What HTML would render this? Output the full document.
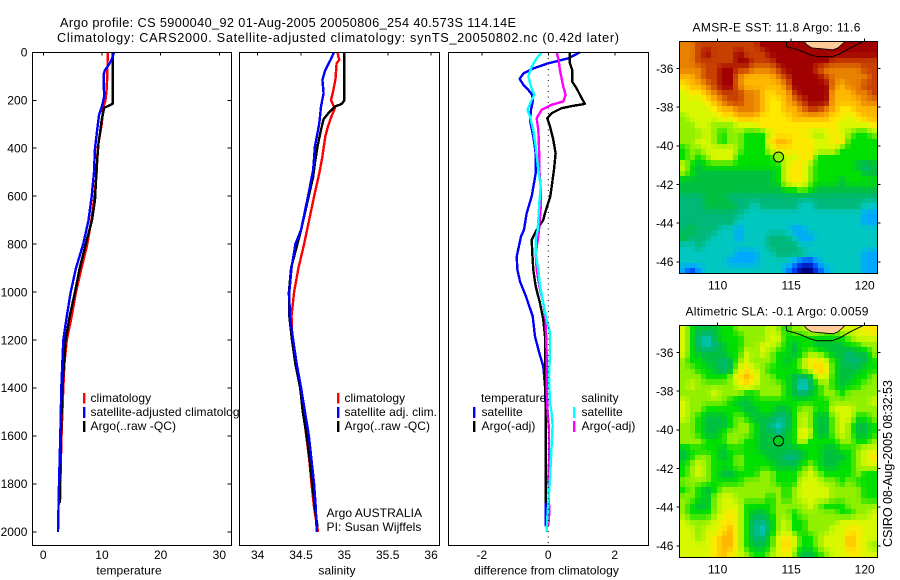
<!DOCTYPE html>
<html lang="en">
<head>
<meta charset="utf-8">
<title>Argo profile CS 5900040_92</title>
<style>
html,body{margin:0;padding:0;background:#fff;width:900px;height:580px;overflow:hidden}
svg{display:block}
text{font-family:"Liberation Sans",sans-serif;font-size:12px;fill:#000;letter-spacing:.06px}
text.big{font-size:12.7px;letter-spacing:0}
</style>
</head>
<body>
<svg id="chart" xmlns="http://www.w3.org/2000/svg" width="900" height="580" viewBox="0 0 900 580">
<defs><clipPath id="leg-clip"><rect x="0" y="0" width="239" height="580"/></clipPath></defs>
<rect width="900" height="580" fill="#fff"/>
<text class="big" x="60" y="27" textLength="456" lengthAdjust="spacing">Argo profile: CS 5900040_92 01-Aug-2005 20050806_254 40.573S 114.14E</text>
<text class="big" x="57" y="42" textLength="562" lengthAdjust="spacing">Climatology: CARS2000. Satellite-adjusted climatology: synTS_20050802.nc (0.42d later)</text>
<g id="plots"></g>

<g clip-path="url(#leg-clip)">
<rect x="83" y="393" width="2.4" height="10.5" fill="#f00"/>
<rect x="83" y="407" width="2.4" height="11" fill="#00f"/>
<rect x="83" y="421" width="2.4" height="11" fill="#000"/>
<text x="90.5" y="402">climatology</text>
<text x="90.5" y="416">satellite-adjusted climatology</text>
<text x="90.5" y="430">Argo(..raw -QC)</text>
</g>
<g>
<rect x="337" y="393" width="2.4" height="10.5" fill="#f00"/>
<rect x="337" y="407" width="2.4" height="11" fill="#00f"/>
<rect x="337" y="421" width="2.4" height="11" fill="#000"/>
<text x="344.5" y="402">climatology</text>
<text x="344.5" y="416">satellite adj. clim.</text>
<text x="344.5" y="430">Argo(..raw -QC)</text>
<text x="326.5" y="517">Argo AUSTRALIA</text>
<text x="326.5" y="531">PI: Susan Wijffels</text>
</g>
<g>
<text x="481" y="402">temperature</text>
<rect x="473" y="407" width="2.4" height="11" fill="#00f"/>
<rect x="473" y="421" width="2.4" height="11" fill="#000"/>
<text x="481.5" y="416">satellite</text>
<text x="481.5" y="430">Argo(-adj)</text>
<text x="581.5" y="402">salinity</text>
<rect x="573" y="407" width="2.4" height="11" fill="#0ff"/>
<rect x="573" y="421" width="2.4" height="11" fill="#f0f"/>
<text x="581.5" y="416">satellite</text>
<text x="581.5" y="430">Argo(-adj)</text>
</g>
<text class="big" transform="translate(892,547) rotate(-90)" x="0" y="0" textLength="167" lengthAdjust="spacing">CSIRO 08-Aug-2005 08:32:53</text>
</svg>
<script>
// ---- shared tick labels ----
const depthTicks = [0,200,400,600,800,1000,1200,1400,1600,1800,2000];
const tempTicks = [0,10,20,30];
const salTicks = [34,34.5,35,35.5,36];
const diffTicks = [-2,0,2];
const lonTicks = [110,115,120];
const latTicks = [-36,-38,-40,-42,-44,-46];

// ---- temperature profiles ----
const tempClimDepth = [0,100,150,200,230,300,400,500,600,700,800,900,1000,1100,1200,1300,1400,1600,1800,1880];
const tempClim = [10.97,10.9,10.8,10.6,10.2,9.95,9.26,9.1,8.7,8.2,7.5,6.5,5.57,4.84,4,3.6,3.4,3.1,2.9,2.85];
const tempArgoDepth = [0,215,232,282,337,380,477,616,700,795,900,1000,1100,1200,1400,1600,1800,1880];
const tempArgo = [11.8,11.8,10.35,9.95,9.66,9.4,9.1,8.8,8.3,7.27,6.2,5.4,4.5,3.8,3.24,3,2.85,2.8];
const tempSatDepth = [0,30,55,75,90,150,180,220,260,320,400,500,600,700,800,900,1000,1100,1200,1300,1400,1600,1800,2000];
const tempSat = [12.05,11.65,11.07,10.5,10.3,10.3,10.4,10.05,9.5,9.2,8.8,8.64,8.25,7.7,6.8,5.57,4.67,4,3.4,3.24,3.07,2.9,2.67,2.5];

// ---- salinity profiles ----
const salClimDepth = [0,32,46,115,171,199,219,233,268,310,351,435,504,601,740,800,900,1000,1100,1200,1300,1400,1500,1600,1700,1800,1900,2000];
const salClim = [34.92,34.94,34.91,34.896,34.865,34.846,34.87,34.89,34.85,34.81,34.78,34.746,34.71,34.65,34.57,34.535,34.47,34.42,34.39,34.4,34.435,34.49,34.527,34.56,34.595,34.62,34.65,34.695];
const salArgoDepth = [0,200,215,226,254,279,323,393,462,518,740,900,1000,1100,1200,1300,1400,1500,1600,1700,1800,1900,1980];
const salArgo = [35,35,34.97,34.89,34.815,34.76,34.73,34.69,34.66,34.64,34.5,34.385,34.36,34.365,34.396,34.435,34.49,34.52,34.565,34.6,34.63,34.66,34.69];
const salSatDepth = [0,32,74,115,171,226,296,393,490,601,740,800,900,1000,1100,1200,1300,1400,1500,1600,1700,1800,1900,2000];
const salSat = [34.88,34.84,34.78,34.746,34.76,34.73,34.71,34.66,34.64,34.58,34.5,34.435,34.39,34.365,34.37,34.41,34.45,34.5,34.546,34.59,34.62,34.65,34.67,34.68];

// ---- differences from climatology ----
const diffTempSatDepth = [0,25,46,67,88,111,136,157,178,205,240,282,351,421,504,601,670,740,768,852,907,956,1018,1101,1185,1254,1310,1393,1532,1978];
const diffTempSat = [0.95,0.6,0,-0.45,-0.75,-0.86,-0.75,-0.6,-0.48,-0.47,-0.52,-0.55,-0.45,-0.38,-0.38,-0.5,-0.65,-0.73,-0.82,-0.95,-0.93,-0.85,-0.67,-0.47,-0.4,-0.27,-0.15,-0.1,-0.07,-0.08];
const diffTempArgoDepth = [0,46,74,122,150,185,215,223,233,254,275,310,365,421,490,601,670,699,741,782,838,907,976,1046,1115,1185,1324,1463,1880];
const diffTempArgo = [0.65,0.65,0.72,0.72,0.85,0.98,1.1,0.75,0.4,0.1,-0.03,0.05,0.15,0.22,0.17,0.06,-0.1,-0.15,-0.35,-0.5,-0.48,-0.45,-0.38,-0.25,-0.15,-0.1,-0.1,-0.08,-0.08];
const diffSalSatDepth = [0,25,60,101,143,178,205,240,268,324,393,490,560,629,740,782,838,907,976,1046,1115,1171,1254,1352,1463,1503,1558,1641,1780,1919,2000];
const diffSalSat = [-0.2,-0.35,-0.5,-0.6,-0.52,-0.42,-0.52,-0.63,-0.55,-0.45,-0.38,-0.3,-0.23,-0.27,-0.32,-0.38,-0.38,-0.3,-0.25,-0.15,-0.05,0.05,0.05,0.02,0.05,0.1,0.13,0.1,0.05,-0.02,-0.05];
const diffSalArgoDepth = [0,25,74,143,178,205,219,240,275,324,393,490,560,629,740,768,838,907,976,1046,1115,1254,1393,1503,1572,1710,1780,1919,1975];
const diffSalArgo = [0.25,0.3,0.35,0.45,0.52,0.45,0.1,-0.2,-0.35,-0.3,-0.28,-0.27,-0.23,-0.22,-0.28,-0.3,-0.38,-0.35,-0.27,-0.15,-0.08,-0.05,-0.05,-0.02,0.02,0.02,0,0.03,0];

// ---- map data: levels on the colour scale, north to south, west to east ----
const sstGrid = [
[11,11,12,12,12,12,12,12,12,12,13,13,13,13,13,13,13,13,13,13,13,13,13,13,13],
[11,11,12,13,12,12,12,13,12,12,12,13,13,13,13,13,13,13,13,13,13,13,13,13,13],
[11,11,12,12,12,12,12,13,13,12,12,12,13,13,13,13,13,13,13,12,12,12,12,12,12],
[11,11,11,12,12,13,13,12,12,11,11,11,12,13,13,13,13,12,11,11,11,11,11,12,12],
[10,10,11,12,12,13,13,11,10,10,10,10,11,12,13,13,13,13,12,11,11,11,11,11,12],
[9,10,10,11,12,13,13,11,10,10,10,10,10,11,13,13,13,13,13,11,10,11,11,12,12],
[8,9,9,10,11,12,12,12,11,11,10,9,10,10,12,13,13,13,13,10,10,10,11,11,12],
[8,8,8,9,10,11,12,12,11,11,10,9,9,10,11,12,13,13,13,10,10,10,10,11,11],
[8,8,8,8,9,10,10,11,11,11,10,9,9,10,10,11,12,12,11,10,9,9,10,10,10],
[7,8,8,8,8,9,9,10,10,10,9,9,9,9,10,10,10,10,10,9,9,8,9,10,10],
[7,7,8,8,7,7,7,8,8,8,9,9,9,9,9,9,9,9,9,9,8,8,8,8,9],
[7,7,7,8,7,6,7,7,6,6,6,8,9,9,9,9,8,7,8,9,8,7,6,6,7],
[7,7,8,8,7,6,7,7,6,6,6,9,10,10,9,9,9,8,8,9,9,6,6,6,6],
[6,7,7,8,8,8,8,7,6,6,6,8,9,9,9,9,9,8,8,8,6,6,6,6,6],
[6,7,6,7,8,8,8,6,6,6,6,6,7,8,8,9,9,6,6,6,6,6,6,6,6],
[8,6,5,6,6,6,6,6,6,6,6,6,6,8,9,9,7,6,6,6,6,6,5,4,5],
[7,6,5,5,5,5,5,5,5,5,5,5,6,8,9,9,7,6,6,6,6,6,6,5,5],
[5,5,5,5,5,5,5,5,5,5,5,5,6,8,9,9,7,6,6,6,5,6,6,6,6],
[5,5,5,5,5,5,5,5,5,5,5,5,5,6,6,7,6,5,5,5,5,5,5,5,5],
[4,4,4,5,5,5,4,4,4,4,4,4,4,4,4,4,4,4,4,4,4,4,4,4,4],
[4,4,4,5,5,5,5,4,4,3,4,4,4,4,4,3,3,4,4,4,4,4,4,3,3],
[4,4,4,4,4,4,4,4,3,3,3,3,3,3,3,3,3,3,3,3,3,3,3,2,2],
[4,4,4,4,4,4,4,3,3,3,3,3,3,3,3,3,3,3,3,3,3,3,3,2,2],
[4,5,4,4,4,3,3,2,3,3,3,3,3,3,2,2,3,3,3,3,3,3,3,3,3],
[5,4,4,4,3,3,3,2,3,3,3,4,4,4,3,2,2,3,3,3,3,3,3,3,3],
[3,3,4,3,3,3,3,3,3,3,3,4,4,4,4,3,3,3,3,3,3,3,3,3,3],
[3,3,3,3,3,3,3,2,2,2,3,3,4,4,4,4,3,3,3,3,3,3,3,2,2],
[3,3,3,3,3,3,2,2,2,2,3,3,3,3,2,1,1,2,3,3,3,3,3,2,2],
[2,1,2,3,3,3,3,3,3,3,3,3,3,2,1,0,0,1,2,3,3,3,3,2,2]
];
const slaGrid = [
[8,6,5,5,5,6,6,7,7,7,7,8,7,6,7,7,8,8,7,7,8,8,8,9,9],
[8,6,4,3,5,6,6,6,7,7,7,8,8,6,6,6,6,6,6,6,6,7,8,8,8],
[8,6,4,3,4,5,6,6,7,7,8,8,7,6,5,6,6,5,5,5,5,6,6,7,7],
[8,6,5,5,5,5,6,6,8,7,8,7,6,6,5,6,7,7,6,5,5,4,5,5,7],
[7,6,6,5,5,4,5,7,8,7,7,7,6,5,6,7,9,9,8,6,5,4,4,5,6],
[7,7,6,6,5,4,5,8,9,8,7,6,6,6,6,7,8,10,9,6,5,5,5,6,6],
[7,7,7,6,6,6,7,9,10,9,7,7,6,6,5,4,5,8,8,6,5,5,6,6,7],
[7,8,7,7,7,7,7,8,9,8,7,7,7,6,5,2,4,6,7,6,5,6,6,7,7],
[7,7,7,7,8,7,7,7,6,6,7,7,7,6,5,4,5,6,7,7,6,7,7,7,7],
[8,7,7,7,7,7,6,5,5,6,6,6,6,6,6,6,6,6,6,7,7,7,7,7,8],
[8,7,7,6,6,6,6,6,5,5,6,6,5,5,6,7,7,6,6,8,8,8,7,7,7],
[8,7,6,5,5,5,6,7,6,5,5,5,4,4,6,8,7,5,5,7,8,8,6,6,7],
[7,7,6,5,5,5,6,7,7,6,5,4,3,4,6,8,7,5,5,7,8,7,5,5,6],
[7,7,6,5,5,6,7,7,7,6,5,5,4,5,6,9,8,5,5,7,8,7,5,5,6],
[7,7,7,6,6,6,7,7,6,6,5,5,5,5,6,8,6,6,6,6,7,7,6,6,7],
[5,6,6,6,6,5,6,6,6,6,5,5,5,5,5,5,6,6,5,5,6,6,7,8,8],
[5,6,7,7,6,5,6,7,6,6,6,5,5,4,4,5,6,6,5,5,5,6,7,8,9],
[6,7,8,7,6,6,6,7,6,6,6,6,5,5,5,6,7,6,5,5,6,6,7,8,8],
[6,7,8,7,6,5,5,6,6,6,7,7,6,6,6,7,8,7,6,6,6,6,7,6,6],
[7,7,7,7,6,6,6,6,7,7,7,7,6,6,6,8,8,8,7,7,6,7,6,6,6],
[6,7,6,5,6,7,7,7,7,7,7,7,7,6,7,8,8,8,8,7,7,7,7,6,6],
[7,7,6,5,7,8,8,7,7,7,7,6,7,6,7,8,8,8,8,7,7,7,7,6,6],
[7,6,5,5,7,8,8,8,6,6,6,6,7,7,7,7,8,7,6,6,6,7,7,7,7],
[7,6,6,6,7,8,9,8,6,5,5,6,7,7,6,7,7,7,7,7,6,6,7,7,8],
[8,7,7,7,8,9,9,8,6,4,4,5,7,8,6,6,7,7,7,7,8,8,8,8,8],
[8,8,7,8,8,9,10,8,6,4,3,5,7,8,6,6,7,7,7,8,8,9,9,8,8],
[8,8,7,8,9,10,10,8,6,4,4,6,8,9,8,6,6,7,8,8,8,10,9,8,8],
[8,8,8,8,9,10,10,8,6,5,5,6,8,10,8,6,6,7,8,8,8,10,9,8,7],
[8,8,8,8,9,10,9,8,7,6,6,7,8,9,7,5,5,6,7,8,8,9,9,8,8]
];
const colourLevels = [[0,0,128],[0,64,255],[0,168,255],[0,200,192],[0,184,120],[0,192,64],[0,224,0],[144,240,0],[216,248,0],[255,232,0],[255,184,0],[232,128,0],[200,64,0],[160,0,0]];
const contourLon = [114.65,114.71,115.26,115.8,116.28,116.76,117.3,117.78,118.3,119,119.48,119.9];
const contourLat = [-34.6,-34.88,-34.98,-35.13,-35.29,-35.39,-35.39,-35.39,-35.24,-34.93,-34.75,-34.6];
const landLon = [115.87,116.07,116.4,117.1,117.85,118.18,118.66];
const landLat = [-34.6,-34.77,-34.93,-34.98,-35.03,-34.93,-34.6];
const profileLon = 114.14;
const profileLat = -40.573;
const sstAtProfile = 7;
const slaAtProfile = 5.5;

// ---- drawing ----
const NS = 'http://www.w3.org/2000/svg';
const root = document.getElementById('plots');
function make(tag, attrs, parent) {
  const el = document.createElementNS(NS, tag);
  for (const k in attrs) el.setAttribute(k, attrs[k]);
  (parent || root).appendChild(el);
  return el;
}
function label(str, x, yc, anchor, parent, name) {
  const t = make('text', {x: x, y: yc + 4.2, 'text-anchor': anchor}, parent);
  t.textContent = str;
  
  
  return t;
}
function tickLine(x1, y1, x2, y2, parent) {
  const l = make('line', {x1: x1, y1: y1, x2: x2, y2: y2, stroke: '#000', 'stroke-width': 1, 'shape-rendering': 'crispEdges'}, parent);
  
  
}
function frame(x0, y0, x1, y1, parent) {
  const r = make('rect', {x: x0, y: y0, width: x1 - x0, height: y1 - y0, fill: 'none', stroke: '#000', 'stroke-width': 1, 'shape-rendering': 'crispEdges'}, parent);
  
  
}
const depthY = d => 52.3 + d * 0.2398;
const PANEL_TOP = 52.5, PANEL_BOTTOM = 545.5;

function profilePanel(cfg) {
  const g = make('g', {});
  
  
  cfg.series.forEach(s => {
    const pts = s.depth.map((d, i) => cfg.x(s.values[i]).toFixed(1) + ',' + depthY(d).toFixed(1)).join(' ');
    const line = make('polyline', {points: pts, fill: 'none', stroke: s.color, 'stroke-width': 2.4, 'stroke-linejoin': 'round', 'shape-rendering': 'crispEdges'}, g);
    
    
  });
  frame(cfg.left, PANEL_TOP, cfg.right, PANEL_BOTTOM, g);
  cfg.xTicks.forEach(v => {
    tickLine(cfg.x(v), PANEL_TOP, cfg.x(v), PANEL_TOP + 3, g);
    label(String(v), cfg.x(v), 555, 'middle', g, 'x-tick-label');
  });
  label(cfg.xLabel, cfg.labelX, 570.5, 'middle', g, 'x-axis-title');
  return g;
}

const tempX = v => 43.3 + v * 5.87;
const salX = v => 257.7 + (v - 34) * 86.7;
const diffX = v => 548.3 + v * 33.25;

const p1 = profilePanel({name: 'temperature-panel', left: 32.5, right: 231.5, x: tempX, xTicks: tempTicks, xLabel: 'temperature', labelX: 129,
  series: [
    {name: 'temperature-climatology-line', color: '#f00', depth: tempClimDepth, values: tempClim},
    {name: 'temperature-argo-line', color: '#000', depth: tempArgoDepth, values: tempArgo},
    {name: 'temperature-satellite-line', color: '#00f', depth: tempSatDepth, values: tempSat}
  ]});
depthTicks.forEach(d => {
  tickLine(32.5, depthY(d), 36.5, depthY(d), p1);
  tickLine(227.5, depthY(d), 231.5, depthY(d), p1);
  label(String(d), 27.5, depthY(d), 'end', p1, 'depth-tick-label');
});
profilePanel({name: 'salinity-panel', left: 239.5, right: 439.5, x: salX, xTicks: salTicks, xLabel: 'salinity', labelX: 337,
  series: [
    {name: 'salinity-climatology-line', color: '#f00', depth: salClimDepth, values: salClim},
    {name: 'salinity-argo-line', color: '#000', depth: salArgoDepth, values: salArgo},
    {name: 'salinity-satellite-line', color: '#00f', depth: salSatDepth, values: salSat}
  ]});
const p3 = profilePanel({name: 'difference-panel', left: 448.5, right: 648.5, x: diffX, xTicks: diffTicks, xLabel: 'difference from climatology', labelX: 546.5,
  series: [
    {name: 'difference-temperature-satellite-line', color: '#00f', depth: diffTempSatDepth, values: diffTempSat},
    {name: 'difference-temperature-argo-line', color: '#000', depth: diffTempArgoDepth, values: diffTempArgo},
    {name: 'difference-salinity-argo-line', color: '#f0f', depth: diffSalArgoDepth, values: diffSalArgo},
    {name: 'difference-salinity-satellite-line', color: '#0ff', depth: diffSalSatDepth, values: diffSalSat}
  ]});
const zeroLine = make('line', {x1: diffX(0), y1: PANEL_TOP, x2: diffX(0), y2: PANEL_BOTTOM, stroke: '#000', 'stroke-width': 1, 'stroke-dasharray': '1 4.5'}, p3);



const LON_W = 107.39, LON_E = 120.86, LAT_N = -34.6, LAT_S = -46.6;
const DRAW_COLS = 37, DRAW_ROWS = 43;
const lonX = lon => 717.7 + (lon - 110) * 14.7;
function colourOf(v) {
  const t = Math.max(0, Math.min(colourLevels.length - 1, v));
  const i = Math.min(colourLevels.length - 2, Math.floor(t));
  const f = t - i;
  const a = colourLevels[i], b = colourLevels[i + 1];
  return 'rgb(' + [0, 1, 2].map(k => Math.round(a[k] + (b[k] - a[k]) * f)).join(',') + ')';
}
function sampleGrid(grid, u, v) {
  const rows = grid.length, cols = grid[0].length;
  const cx = Math.max(0, Math.min(cols - 1, u * cols - 0.5));
  const cy = Math.max(0, Math.min(rows - 1, v * rows - 0.5));
  const c0 = Math.floor(cx), r0 = Math.floor(cy);
  const c1 = Math.min(cols - 1, c0 + 1), r1 = Math.min(rows - 1, r0 + 1);
  const fx = cx - c0, fy = cy - r0;
  return (grid[r0][c0] * (1 - fx) + grid[r0][c1] * fx) * (1 - fy) + (grid[r1][c0] * (1 - fx) + grid[r1][c1] * fx) * fy;
}
function mapPanel(cfg) {
  const g = make('g', {});
  
  
  const latY = lat => cfg.top + (LAT_N - lat) * 19.333;
  const dLon = (LON_E - LON_W) / DRAW_COLS, dLat = (LAT_N - LAT_S) / DRAW_ROWS;
  for (let r = 0; r < DRAW_ROWS; r++) {
    for (let c = 0; c < DRAW_COLS; c++) {
      const x0 = Math.round(lonX(LON_W + c * dLon)), x1 = Math.round(lonX(LON_W + (c + 1) * dLon));
      const y0 = Math.round(latY(LAT_N - r * dLat)), y1 = Math.round(latY(LAT_N - (r + 1) * dLat));
      const level = sampleGrid(cfg.grid, (c + 0.5) / DRAW_COLS, (r + 0.5) / DRAW_ROWS);
      const cell = make('rect', {x: x0, y: y0, width: x1 - x0, height: y1 - y0, fill: colourOf(level), 'shape-rendering': 'crispEdges'}, g);
      
      
    }
  }
  const landPts = landLon.map((lon, i) => lonX(lon).toFixed(1) + ',' + latY(landLat[i]).toFixed(1)).join(' ');
  const land = make('polygon', {points: landPts, fill: '#ffcc99', stroke: '#000', 'stroke-width': 0.8}, g);
  
  
  const contourPts = contourLon.map((lon, i) => lonX(lon).toFixed(1) + ',' + latY(contourLat[i]).toFixed(1)).join(' ');
  const contour = make('polyline', {points: contourPts, fill: 'none', stroke: '#000', 'stroke-width': 1}, g);
  
  
  const marker = make('circle', {cx: lonX(profileLon), cy: latY(profileLat), r: 5, fill: colourOf(cfg.markerValue), stroke: '#000', 'stroke-width': 1}, g);
  
  
  const bottom = cfg.top + 232;
  frame(679.5, cfg.top, 877.5, bottom, g);
  lonTicks.forEach(lon => {
    tickLine(lonX(lon), cfg.top - 3, lonX(lon), cfg.top, g);
    label(String(lon), lonX(lon), bottom + 12, 'middle', g, 'longitude-tick-label');
  });
  latTicks.forEach(lat => {
    tickLine(676.5, latY(lat), 679.5, latY(lat), g);
    tickLine(877.5, latY(lat), 880.5, latY(lat), g);
    label(String(lat), 673.5, latY(lat), 'end', g, 'latitude-tick-label');
  });
  const title = label(cfg.title, cfg.titleX, cfg.top - 14, 'start', g, 'map-title');
  title.setAttribute('textLength', cfg.titleLen);
  title.setAttribute('lengthAdjust', 'spacing');
}
mapPanel({name: 'sst-map', top: 41.5, grid: sstGrid, markerValue: sstAtProfile, title: 'AMSR-E SST: 11.8 Argo: 11.6', titleX: 692.5, titleLen: 168});
mapPanel({name: 'sla-map', top: 325.5, grid: slaGrid, markerValue: slaAtProfile, title: 'Altimetric SLA: -0.1 Argo: 0.0059', titleX: 685.5, titleLen: 183});
</script>
</body>
</html>
